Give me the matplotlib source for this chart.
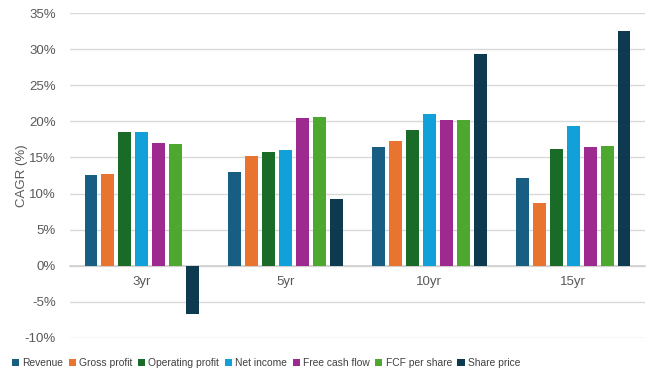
import matplotlib
matplotlib.use("Agg")
import matplotlib.pyplot as plt
import numpy as np
from matplotlib.ticker import FuncFormatter

plt.rcParams['font.family'] = ['Liberation Sans', 'DejaVu Sans']

periods = ["3yr", "5yr", "10yr", "15yr"]
series_names = ["Revenue", "Gross profit", "Operating profit", "Net income",
                "Free cash flow", "FCF per share", "Share price"]
revenue = [12.6, 13.0, 16.5, 12.2]
gross_profit = [12.7, 15.2, 17.3, 8.7]
operating_profit = [18.5, 15.8, 18.8, 16.2]
net_income = [18.5, 16.0, 21.0, 19.4]
free_cash_flow = [17.0, 20.5, 20.2, 16.5]
fcf_per_share = [16.9, 20.6, 20.2, 16.6]
share_price = [-6.7, 9.3, 29.3, 32.5]
colors = ["#175e82", "#e8742f", "#1a6b27", "#11a0d8", "#9d2b8f", "#4ea72e", "#0e3a4f"]

all_series = [revenue, gross_profit, operating_profit, net_income,
              free_cash_flow, fcf_per_share, share_price]

fig = plt.figure(figsize=(6.54, 3.79), dpi=100)
ax = fig.add_axes([70/654, 1-338/379, (645-70)/654, (338-13)/379])

x = np.arange(len(periods))
step = 0.118
width = 0.09
n = len(all_series)
for i, (vals, name, c) in enumerate(zip(all_series, series_names, colors)):
    ax.bar(x + (i - (n-1)/2) * step, vals, width=width, color=c, label=name, zorder=3)

ax.set_xlim(-0.5, len(periods) - 0.5)
ax.set_ylim(-10, 35)
ax.set_yticks(np.arange(-10, 36, 5))
ax.yaxis.set_major_formatter(FuncFormatter(lambda v, p: f"{int(v)}%"))
ax.grid(axis='y', color='#d9d9d9', linewidth=1, zorder=0)
for s in ['top', 'right', 'left']:
    ax.spines[s].set_visible(False)
ax.spines['bottom'].set_position(('data', 0))
ax.spines['bottom'].set_color('#d0d0d0')
ax.spines['bottom'].set_linewidth(1.2)
ax.set_xticks(x)
ax.set_xticklabels(periods)
ax.tick_params(axis='x', length=0, pad=7, labelsize=9.5, labelcolor='#595959')
ax.tick_params(axis='y', length=0, pad=10, labelsize=9.5, labelcolor='#595959')
ax.set_ylabel("CAGR (%)", fontsize=9.5, color='#595959')
ax.yaxis.set_label_coords(-(70-28)/575, 0.5)

handles, labels = ax.get_legend_handles_labels()
fig.legend(handles, labels, loc='center', bbox_to_anchor=(266/654, 1-363/379), ncol=7,
           frameon=False, fontsize=7.4, handlelength=0.7, handleheight=0.7,
           handletextpad=0.3, columnspacing=0.55, labelcolor='#404040')

fig.savefig("out.png", dpi=100)
